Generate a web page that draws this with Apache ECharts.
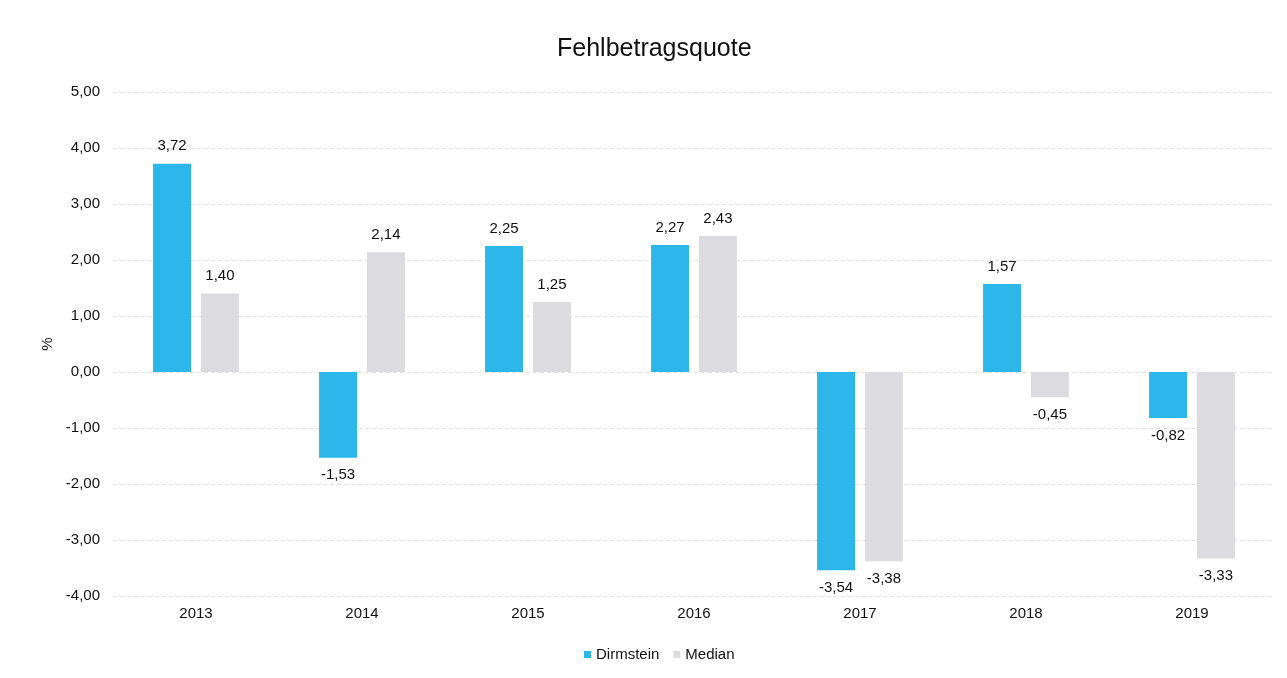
<!DOCTYPE html>
<html>
<head>
<meta charset="utf-8">
<script src="https://cdn.jsdelivr.net/npm/echarts@6/dist/echarts.min.js"></script>
<style>
html,body{margin:0;padding:0;background:#fff;}
#main{width:1287px;height:678px;}
</style>
</head>
<body>
<div id="main"></div>
<script>
//Jahre
let years = ['2013','2014','2015','2016','2017','2018','2019']
//Dirmstein Werte
let dirmstein = [3.72, -1.53, 2.25, 2.27, -3.54, 1.57, -0.82]
//Median Werte
let median = [1.40, 2.14, 1.25, 2.43, -3.38, -0.45, -3.33]

//Zahl mit Komma
let fmt = v => v.toFixed(2).replace('.', ',')

let myChart = echarts.init(document.getElementById('main'))
let labelStyle = {
    show: true,
    color: '#111',
    fontSize: 15,
    fontFamily: 'Liberation Sans, Arial',
    distance: 10,
    formatter: p => fmt(p.value)
}
let option = {
    animation: false,
    title: {
        text: 'Fehlbetragsquote',
        left: 552,
        top: 32,
        textStyle: {fontSize: 25, fontWeight: 'normal', color: '#111', fontFamily: 'Liberation Sans, Arial'}
    },
    legend: {
        bottom: 11,
        left: 579,
        itemWidth: 7,
        itemHeight: 7,
        itemGap: 14,
        icon: 'rect',
        textStyle: {fontSize: 15, color: '#111', fontFamily: 'Liberation Sans, Arial'},
        data: ['Dirmstein', 'Median']
    },
    grid: {left: 113, right: 12, top: 92, bottom: 82},
    xAxis: {
        type: 'category',
        data: years,
        axisTick: {show: false},
        axisLine: {show: false},
        axisLabel: {fontSize: 15, color: '#111', margin: 10, fontFamily: 'Liberation Sans, Arial'}
    },
    yAxis: {
        type: 'value',
        min: -4,
        max: 5,
        interval: 1,
        name: '%',
        nameLocation: 'middle',
        nameGap: 57,
        nameRotate: 90,
        nameTextStyle: {fontSize: 15, color: '#111', fontFamily: 'Liberation Sans, Arial'},
        axisLabel: {fontSize: 15, color: '#111', margin: 13, formatter: v => fmt(v), fontFamily: 'Liberation Sans, Arial'},
        splitLine: {lineStyle: {color: '#e2e2e2', type: [4, 3]}}
    },
    series: [
        {
            name: 'Dirmstein',
            type: 'bar',
            barWidth: 38,
            barGap: '26%',
            itemStyle: {color: '#2cb6ea'},
            label: Object.assign({}, labelStyle, {position: 'top'}),
            data: dirmstein.map(v => ({value: v, label: {position: v < 0 ? 'bottom' : 'top'}}))
        },
        {
            name: 'Median',
            type: 'bar',
            barWidth: 38,
            itemStyle: {color: '#dcdce0'},
            label: Object.assign({}, labelStyle, {position: 'top'}),
            data: median.map(v => ({value: v, label: {position: v < 0 ? 'bottom' : 'top'}}))
        }
    ]
}
myChart.setOption(option)
</script>
</body>
</html>
